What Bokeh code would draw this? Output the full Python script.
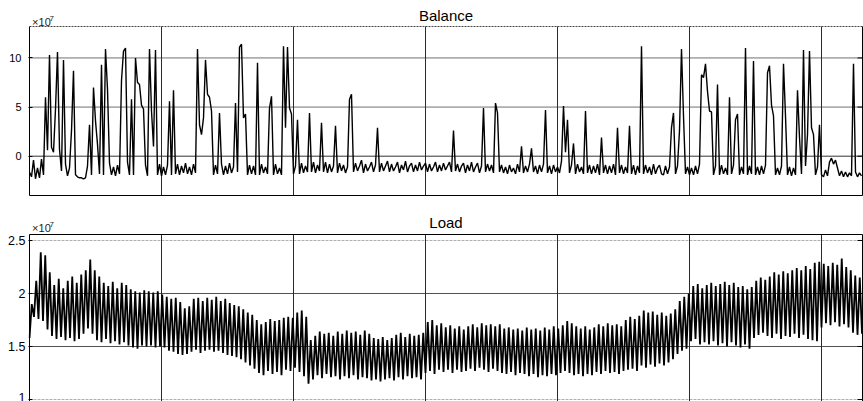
from bokeh.plotting import figure
from bokeh.layouts import column
from bokeh.models import Range1d, FixedTicker, Label
from bokeh.embed import file_html
from bokeh.resources import INLINE

# ---------------- data (values in units of 1e7) ----------------
balance = [
    -1.6, -2.1, -0.4, -2.3, -1.2, -2.2, -0.3, -1.9, 6.0, 0.6,
    10.3, 0.9, 0.4, 4.8, 10.6, 0.7, -1.5, 9.8, -0.8, -2.0,
    -1.2, 2.6, 8.7, -1.9, -2.1, -2.2, -2.2, -2.3, -2.2, -1.0,
    3.2, -1.9, 7.0, 3.6, 1.2, -1.8, 9.3, -1.9, 10.9, 6.8,
    -0.7, -1.9, -1.1, -2.0, -0.9, -1.8, 7.7, 10.7, 11.0, -0.6,
    -1.9, 5.8, -1.9, 10.0, 7.5, 7.3, 5.2, 4.8, -0.9, -2.0,
    10.9, 4.6, 1.0, 10.8, -1.9, -0.8, -2.0, -1.1, -1.9, -0.9,
    5.6, -1.9, 6.7, -1.8, -0.8, -1.9, -1.0, -1.7, -0.7, -1.8,
    -1.1, -1.9, -0.8, -1.7, 10.9, 3.2, 2.2, 3.9, 9.8, 6.3,
    6.0, 4.6, -1.9, -0.9, -1.8, 4.4, -0.8, -1.9, -1.0, -1.8,
    -0.7, -1.7, -1.1, 5.4, -1.6, 11.1, 11.4, 3.9, 4.3, -1.9,
    -0.9, -1.8, -1.0, -1.9, 9.5, -1.9, -0.8, -1.7, -1.1, -1.8,
    4.9, 6.1, -1.9, -0.8, -1.8, -1.2, -1.9, 11.2, 2.9, 11.1,
    4.9, 4.3, -1.8, -1.0, 3.7, -1.8, -0.7, -1.7, -1.0, -1.6,
    4.4, -1.6, -0.6, -1.7, -0.9, -1.5, 3.4, -1.6, -0.6, -1.7,
    -0.8, -1.6, -1.0, 3.1, -1.7, -0.7, -1.5, -0.9, -1.7, -1.1,
    5.8, 6.3, -1.6, -0.7, -1.5, -1.0, -0.4, -1.7, -0.8, -1.5,
    -1.1, -0.6, -1.6, -0.9, 2.9, -1.6, -0.7, -1.5, -1.0, -0.5,
    -1.6, -0.8, -1.5, -1.1, -0.6, -1.7, -0.9, -1.4, -0.5, -1.6,
    -1.0, -0.7, -1.6, -0.9, -1.5, -0.6, -1.4, -1.0, -0.7, -1.6,
    -0.8, -1.5, -1.1, -0.6, -1.6, -0.9, -1.5, -0.7, -1.4, -1.0,
    -0.6, -1.6, 2.6, -1.5, -0.8, -1.6, -1.0, -0.7, -1.7, -0.9,
    -1.5, -0.6, -1.6, -1.1, -0.7, -1.7, -1.0, 4.9, -1.6, -0.8,
    -1.5, -0.9, -1.7, 5.4, 4.4, -1.6, -0.9, -1.7, -1.1, -1.8,
    -0.9, -1.6, -1.2, -1.8, -0.8, -1.6, 1.0, -1.7, -1.0, -1.6,
    -0.8, 0.8, -1.6, -1.0, -1.8, -0.9, -1.6, -0.8, 4.7, -1.7,
    -1.0, -1.8, -0.9, -1.6, -1.1, -1.7, -0.5, 5.1, 0.4, 3.7,
    -1.7, -0.9, 1.3, -1.8, -0.8, -1.6, -1.1, -1.8, 4.6, -1.7,
    -0.9, -1.8, -1.0, -1.7, -0.8, -1.9, 1.9, -1.7, -0.9, -1.8,
    -1.0, -1.7, -0.8, -1.9, 2.9, -1.7, -0.9, -1.8, -1.1, -1.7,
    3.1, -1.8, -0.9, -1.9, -1.0, -1.7, 11.2, -1.8, -0.9, -1.7,
    -1.1, -1.9, -0.8, -1.8, -1.2, -0.9, -1.8, -1.9, -1.0, -1.8,
    -1.1, 2.9, 4.4, -1.8, -1.0, 2.6, 10.9, 4.1, -1.8, -1.1,
    -1.9, -1.2, -1.9, -1.0, -1.8, -0.8, 8.3, 8.0, 9.4, 6.6,
    4.6, 4.5, -1.9, -1.0, 7.3, -1.9, -0.9, -1.8, -1.2, -1.9,
    6.0, -1.8, -0.9, 3.7, 4.3, -1.9, -1.1, -1.8, 11.0, -1.9,
    -1.0, -1.8, 9.7, -1.9, -1.1, -1.9, -1.0, -1.8, -0.9, 8.5,
    9.2, 5.2, 4.1, -1.9, -1.2, -1.9, -1.0, 9.4, 4.1, -1.9,
    -1.1, -2.0, -1.2, -1.9, 6.7, 1.9, -1.8, 10.8, -1.0, 2.2,
    10.7, 2.9, 2.2, -1.9, -1.1, 3.2, -1.9, -2.1, -1.4, -2.0,
    -0.6, -0.2, -0.8, -0.4, -1.2, -2.0, -1.5, -2.1, -1.6, -2.1,
    -1.7, -2.0, 9.4, -1.6, -2.1, -1.7, -2.0,
]

load_hi = [
    1.90, 2.12, 2.39, 2.36, 2.20, 2.08, 2.14, 2.05, 2.12, 2.16,
    2.10, 2.18, 2.22, 2.32, 2.22, 2.16, 2.10, 2.07, 2.11, 2.05,
    2.10, 2.08, 2.04, 2.02, 2.01, 2.03, 2.02, 2.01, 2.02, 1.99,
    1.97, 1.95, 1.96, 1.92, 1.86, 1.88, 1.95, 1.96, 1.93, 1.96,
    1.94, 1.97, 1.93, 1.95, 1.91, 1.89, 1.88, 1.85, 1.82, 1.80,
    1.75, 1.71, 1.73, 1.76, 1.74, 1.75, 1.77, 1.78, 1.77, 1.82,
    1.84, 1.78, 1.56, 1.60, 1.64, 1.62, 1.63, 1.60, 1.64, 1.62,
    1.65, 1.63, 1.64, 1.61, 1.65, 1.62, 1.58, 1.57, 1.59, 1.56,
    1.58, 1.61, 1.63, 1.59, 1.62, 1.60, 1.61, 1.63, 1.73, 1.75,
    1.70, 1.72, 1.68, 1.70, 1.67, 1.69, 1.66, 1.69, 1.71, 1.68,
    1.72, 1.70, 1.71, 1.69, 1.71, 1.67, 1.68, 1.66, 1.67, 1.65,
    1.68, 1.66, 1.67, 1.65, 1.68, 1.66, 1.69, 1.67, 1.70, 1.74,
    1.72, 1.69, 1.67, 1.69, 1.66, 1.68, 1.71, 1.69, 1.72, 1.70,
    1.71, 1.69, 1.75, 1.78, 1.76, 1.79, 1.84, 1.82, 1.83, 1.80,
    1.82, 1.79, 1.81, 1.85, 1.93, 1.97, 2.00, 2.07, 2.09, 2.05,
    2.08, 2.10, 2.07, 2.09, 2.11, 2.08, 2.10, 2.06, 2.07, 2.04,
    2.06, 2.12, 2.15, 2.13, 2.16, 2.20, 2.18, 2.21, 2.19, 2.22,
    2.24, 2.22, 2.26, 2.23, 2.29, 2.30, 2.28, 2.26, 2.29, 2.27,
    2.33, 2.25, 2.22, 2.17, 2.15, 2.14,
]

load_lo = [
    1.58, 1.78, 1.76, 1.74, 1.66, 1.60, 1.57, 1.59, 1.56, 1.58,
    1.55, 1.57, 1.62, 1.67, 1.62, 1.56, 1.54, 1.57, 1.53, 1.55,
    1.52, 1.54, 1.51, 1.49, 1.48, 1.51, 1.50, 1.51, 1.49, 1.50,
    1.49, 1.46, 1.45, 1.43, 1.42, 1.43, 1.45, 1.47, 1.44, 1.46,
    1.47, 1.45, 1.46, 1.44, 1.42, 1.41, 1.40, 1.38, 1.35, 1.32,
    1.29, 1.25, 1.23, 1.27, 1.24, 1.26, 1.23, 1.28, 1.27, 1.30,
    1.26, 1.22, 1.15, 1.19, 1.23, 1.20, 1.24, 1.21, 1.22, 1.19,
    1.22, 1.20, 1.23, 1.19, 1.21, 1.20, 1.18, 1.19, 1.17, 1.19,
    1.20, 1.18, 1.21, 1.19, 1.22, 1.20, 1.21, 1.19, 1.25, 1.27,
    1.24, 1.28, 1.26, 1.28, 1.25, 1.28, 1.26, 1.27, 1.29, 1.27,
    1.30, 1.28, 1.26, 1.29, 1.27, 1.25, 1.24, 1.26, 1.23, 1.25,
    1.24, 1.22, 1.24, 1.21, 1.23, 1.22, 1.24, 1.23, 1.25, 1.27,
    1.25, 1.23, 1.24, 1.22, 1.24, 1.23, 1.26, 1.24, 1.27, 1.25,
    1.26, 1.24, 1.27, 1.28, 1.29, 1.27, 1.32, 1.30, 1.33, 1.31,
    1.34, 1.32, 1.35, 1.38, 1.43, 1.46, 1.48, 1.55, 1.57, 1.52,
    1.54, 1.52, 1.55, 1.51, 1.53, 1.50, 1.54, 1.51, 1.49, 1.52,
    1.48, 1.58, 1.61, 1.63, 1.60, 1.58, 1.62, 1.57, 1.60, 1.59,
    1.62, 1.58, 1.61, 1.57, 1.56, 1.55, 1.68, 1.72, 1.70, 1.73,
    1.69, 1.71, 1.68, 1.63, 1.61, 1.62,
]

balance_ticks = [0, 5, 10]
balance_zero = [0]
balance_upper = [5, 10]
load_ticks = [1, 1.5, 2, 2.5]
load_dark_grid = [1.5, 2]
load_light_grid = [1, 2.5]
time_grid = [66, 132, 198, 264, 330, 396]

# axes box limits (data units)
X_END = 416.5
BAL_BOX = (-4.0, 13.2)
LOAD_TOP = 2.5566
LOAD_STEP = 2.25

bal_x = list(range(len(balance)))
load_x, load_y = [], []
for k, (lo, hi) in enumerate(zip(load_lo, load_hi)):
    load_x += [k * LOAD_STEP, k * LOAD_STEP + LOAD_STEP / 2]
    load_y += [lo, hi]

FONT = "Liberation Sans"
W = 863
H1, H2 = 214, 187
PX_X = 2.0                      # pixels per x unit
BAL_PX = 169 / (BAL_BOX[1] - BAL_BOX[0])   # pixels per y unit (top)
LOAD_PX = 106.0                 # pixels per y unit (bottom)


def make_fig(height, y_range, bottom_border):
    p = figure(width=W, height=height,
               x_range=Range1d(-0.5, (W - 28) / PX_X - 0.5), y_range=y_range,
               x_axis_location=None, output_backend="svg", toolbar_location=None,
               min_border_left=28, min_border_right=0, min_border_top=0,
               min_border_bottom=bottom_border)
    p.background_fill_color = "white"
    p.border_fill_color = "white"
    p.outline_line_color = None
    p.grid.visible = False
    ax = p.yaxis[0]
    ax.minor_tick_line_color = None
    ax.major_tick_in = 4
    ax.major_tick_out = 0
    ax.major_tick_line_color = "black"
    ax.axis_line_color = None
    ax.major_label_text_font = FONT
    ax.major_label_text_color = "black"
    return p


def label(p, x, y, text, size, align="left", color="#222222"):
    p.add_layout(Label(x=x, y=y, text=text, text_align=align, text_baseline="alphabetic",
                       text_font=FONT, text_font_size=f"{size}px", text_color=color))


# ---------------- top: Balance ----------------
b0, b1 = BAL_BOX
p1 = make_fig(H1, Range1d(b0 - 1 / BAL_PX, b1 + 26 / BAL_PX), 18)
p1.yaxis.ticker = FixedTicker(ticks=balance_ticks)
p1.yaxis.major_label_text_font_size = "11px"
p1.yaxis.major_label_standoff = 7
p1.segment(x0=0, x1=X_END, y0=balance_upper, y1=balance_upper, line_color="#707070", line_width=1)
p1.segment(x0=0, x1=X_END, y0=balance_zero, y1=balance_zero, line_color="#333333", line_width=1)
p1.segment(x0=time_grid, x1=time_grid, y0=b0, y1=b1, line_color="#2a2a2a", line_width=1)
p1.segment(x0=X_END - 2.5, x1=X_END, y0=balance_ticks, y1=balance_ticks, line_color="black")
p1.segment(x0=[0, X_END, 0], x1=[0, X_END, X_END], y0=[b0, b0, b0], y1=[b1, b1, b0],
           line_color="black", line_width=1)
p1.segment(x0=0, x1=X_END, y0=b1, y1=b1, line_color="#444444", line_width=1, line_dash="2 1")
p1.line(bal_x, balance, line_color="black", line_width=1.4)
label(p1, X_END / 2, b1 + 11.5 / BAL_PX, "Balance", 15, align="center", color="black")
label(p1, 1.3, b1 + 5.0 / BAL_PX, "×10", 11)
label(p1, 10, b1 + 8.5 / BAL_PX, "7", 8)

# ---------------- bottom: Load ----------------
l_bottom = 2.5 - 161 / LOAD_PX
p2 = make_fig(H2, Range1d(l_bottom, LOAD_TOP + 20 / LOAD_PX), 0)
p2.yaxis.ticker = FixedTicker(ticks=load_ticks)
p2.yaxis.major_label_text_font_size = "12.5px"
p2.yaxis.major_label_standoff = 3
p2.segment(x0=0, x1=X_END, y0=load_dark_grid, y1=load_dark_grid, line_color="#505050", line_width=1)
p2.segment(x0=0, x1=X_END, y0=load_light_grid, y1=load_light_grid, line_color="#b0b0b0",
           line_width=1, line_dash="3 1")
p2.segment(x0=time_grid, x1=time_grid, y0=l_bottom, y1=LOAD_TOP, line_color="#2a2a2a", line_width=1)
p2.segment(x0=X_END - 2.5, x1=X_END, y0=load_ticks, y1=load_ticks, line_color="black")
p2.segment(x0=[0, X_END, 0], x1=[0, X_END, X_END], y0=[l_bottom, l_bottom, LOAD_TOP],
           y1=[LOAD_TOP, LOAD_TOP, LOAD_TOP], line_color="black", line_width=1)
p2.line(load_x, load_y, line_color="black", line_width=1.8)
label(p2, X_END / 2, LOAD_TOP + 11.7 / LOAD_PX, "Load", 15, align="center", color="black")
label(p2, 1.3, LOAD_TOP + 6.5 / LOAD_PX, "×10", 11)
label(p2, 10, LOAD_TOP + 10.5 / LOAD_PX, "7", 8)

layout = column(p1, p2)
open("out.html", "w").write(file_html(layout, INLINE))
